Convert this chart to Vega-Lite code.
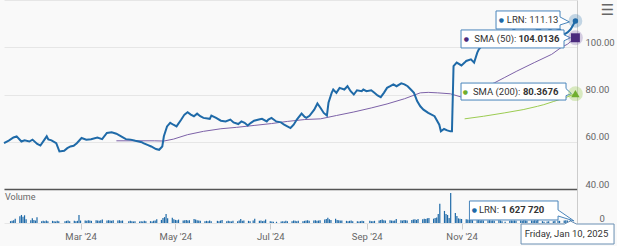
{
  "$schema": "https://vega.github.io/schema/vega-lite/v6.json",
  "background": "#f9f9f9",
  "padding": 0,
  "spacing": 0,
  "config": {"font": "Roboto", "view": {"stroke": null}, "axis": {"labelFont": "Roboto"}},
  "datasets": {
    "price": [
      {"d":"2024-01-15","p":59.4},{"d":"2024-01-18","p":60.5},{"d":"2024-01-21","p":61.8},{"d":"2024-01-23","p":62.3},
      {"d":"2024-01-26","p":60.1},{"d":"2024-01-28","p":60.6},{"d":"2024-01-31","p":60.1},{"d":"2024-02-02","p":60.9},
      {"d":"2024-02-05","p":59.1},{"d":"2024-02-07","p":58.4},{"d":"2024-02-11","p":62.3},{"d":"2024-02-12","p":61.0},
      {"d":"2024-02-14","p":60.6},{"d":"2024-02-17","p":59.4},{"d":"2024-02-19","p":55.9},{"d":"2024-02-22","p":56.2},
      {"d":"2024-02-24","p":57.3},{"d":"2024-02-26","p":58.0},{"d":"2024-02-28","p":58.3},{"d":"2024-03-01","p":59.4},
      {"d":"2024-03-04","p":61.6},{"d":"2024-03-07","p":60.9},{"d":"2024-03-10","p":61.1},{"d":"2024-03-14","p":61.8},
      {"d":"2024-03-17","p":61.1},{"d":"2024-03-20","p":63.7},{"d":"2024-03-23","p":64.0},{"d":"2024-03-26","p":63.4},
      {"d":"2024-03-29","p":62.3},{"d":"2024-04-01","p":61.1},{"d":"2024-04-04","p":60.9},{"d":"2024-04-07","p":60.4},
      {"d":"2024-04-11","p":59.8},{"d":"2024-04-12","p":59.4},{"d":"2024-04-15","p":58.6},{"d":"2024-04-17","p":58.0},
      {"d":"2024-04-20","p":56.9},{"d":"2024-04-22","p":56.6},{"d":"2024-04-24","p":58.0},{"d":"2024-04-25","p":62.3},
      {"d":"2024-04-27","p":66.5},{"d":"2024-04-29","p":68.0},{"d":"2024-05-01","p":67.2},{"d":"2024-05-03","p":66.5},
      {"d":"2024-05-06","p":69.4},{"d":"2024-05-08","p":71.5},{"d":"2024-05-10","p":72.5},{"d":"2024-05-12","p":71.5},
      {"d":"2024-05-14","p":70.8},{"d":"2024-05-16","p":71.9},{"d":"2024-05-18","p":70.8},{"d":"2024-05-20","p":70.1},
      {"d":"2024-05-24","p":69.7},{"d":"2024-05-25","p":71.1},{"d":"2024-05-28","p":70.1},{"d":"2024-05-31","p":68.9},
      {"d":"2024-06-03","p":68.6},{"d":"2024-06-06","p":69.4},{"d":"2024-06-08","p":68.2},{"d":"2024-06-11","p":67.5},
      {"d":"2024-06-13","p":68.6},{"d":"2024-06-15","p":68.0},{"d":"2024-06-17","p":66.9},{"d":"2024-06-19","p":68.0},
      {"d":"2024-06-21","p":68.9},{"d":"2024-06-24","p":69.4},{"d":"2024-06-26","p":69.7},{"d":"2024-06-29","p":68.6},
      {"d":"2024-06-30","p":69.4},{"d":"2024-07-02","p":70.1},{"d":"2024-07-05","p":68.6},{"d":"2024-07-08","p":68.2},
      {"d":"2024-07-10","p":67.2},{"d":"2024-07-12","p":66.5},{"d":"2024-07-14","p":65.8},{"d":"2024-07-16","p":67.2},
      {"d":"2024-07-18","p":69.4},{"d":"2024-07-21","p":71.9},{"d":"2024-07-23","p":70.5},{"d":"2024-07-24","p":70.1},
      {"d":"2024-07-26","p":71.0},{"d":"2024-07-29","p":73.6},{"d":"2024-07-31","p":76.2},{"d":"2024-08-02","p":74.3},
      {"d":"2024-08-04","p":72.2},{"d":"2024-08-06","p":71.1},{"d":"2024-08-07","p":76.5},{"d":"2024-08-09","p":80.7},
      {"d":"2024-08-10","p":82.1},{"d":"2024-08-12","p":80.7},{"d":"2024-08-14","p":82.8},{"d":"2024-08-17","p":82.1},
      {"d":"2024-08-19","p":83.5},{"d":"2024-08-21","p":81.4},{"d":"2024-08-23","p":80.0},{"d":"2024-08-25","p":81.8},
      {"d":"2024-08-28","p":81.4},{"d":"2024-08-29","p":82.1},{"d":"2024-08-31","p":81.4},{"d":"2024-09-03","p":81.8},
      {"d":"2024-09-05","p":80.7},{"d":"2024-09-07","p":79.6},{"d":"2024-09-09","p":78.9},{"d":"2024-09-11","p":80.7},
      {"d":"2024-09-13","p":82.8},{"d":"2024-09-15","p":83.5},{"d":"2024-09-17","p":84.3},{"d":"2024-09-19","p":83.5},
      {"d":"2024-09-22","p":84.7},{"d":"2024-09-24","p":84.3},{"d":"2024-09-26","p":83.5},{"d":"2024-09-28","p":82.1},
      {"d":"2024-09-30","p":80.7},{"d":"2024-10-02","p":77.2},{"d":"2024-10-04","p":75.0},{"d":"2024-10-06","p":73.6},
      {"d":"2024-10-09","p":72.2},{"d":"2024-10-13","p":70.8},{"d":"2024-10-16","p":67.2},{"d":"2024-10-17","p":64.4},
      {"d":"2024-10-19","p":65.4},{"d":"2024-10-21","p":64.8},{"d":"2024-10-23","p":64.4},{"d":"2024-10-24","p":64.4},
      {"d":"2024-10-25","p":92.0},{"d":"2024-10-27","p":93.5},{"d":"2024-10-30","p":92.3},{"d":"2024-11-01","p":93.5},
      {"d":"2024-11-02","p":94.2},{"d":"2024-11-05","p":94.9},{"d":"2024-11-07","p":93.5},{"d":"2024-11-09","p":97.7},
      {"d":"2024-11-10","p":99.1},{"d":"2024-11-13","p":101.5},{"d":"2024-11-16","p":103.0},{"d":"2024-11-20","p":102.0},
      {"d":"2024-11-23","p":104.5},{"d":"2024-11-26","p":106.0},{"d":"2024-11-29","p":105.0},{"d":"2024-12-02","p":107.5},
      {"d":"2024-12-05","p":109.0},{"d":"2024-12-08","p":108.0},{"d":"2024-12-12","p":110.0},{"d":"2024-12-15","p":108.5},
      {"d":"2024-12-18","p":107.0},{"d":"2024-12-21","p":109.5},{"d":"2024-12-24","p":108.0},{"d":"2024-12-27","p":106.5},
      {"d":"2024-12-31","p":107.5},{"d":"2025-01-03","p":105.5},{"d":"2025-01-05","p":106.3},{"d":"2025-01-07","p":107.6},
      {"d":"2025-01-10","p":111.13}
    ],
    "sma50": [
      {"d":"2024-03-26","p":60.4},{"d":"2024-04-06","p":60.4},{"d":"2024-04-19","p":60.4},{"d":"2024-04-25","p":60.3},
      {"d":"2024-05-01","p":61.1},{"d":"2024-05-10","p":63.0},{"d":"2024-05-20","p":64.4},{"d":"2024-05-31","p":65.5},
      {"d":"2024-06-10","p":66.1},{"d":"2024-06-21","p":66.9},{"d":"2024-07-02","p":67.7},{"d":"2024-07-12","p":68.6},
      {"d":"2024-07-23","p":69.4},{"d":"2024-08-02","p":69.7},{"d":"2024-08-12","p":71.1},{"d":"2024-08-23","p":72.6},
      {"d":"2024-09-03","p":74.3},{"d":"2024-09-13","p":76.0},{"d":"2024-09-24","p":78.2},{"d":"2024-10-04","p":80.7},
      {"d":"2024-10-09","p":80.9},{"d":"2024-10-15","p":80.7},{"d":"2024-10-23","p":80.3},{"d":"2024-10-30","p":78.9},
      {"d":"2024-11-07","p":80.5},{"d":"2024-11-13","p":83.0},{"d":"2024-11-20","p":85.0},{"d":"2024-11-26","p":87.1},
      {"d":"2024-12-04","p":89.9},{"d":"2024-12-15","p":93.5},{"d":"2024-12-26","p":97.0},{"d":"2025-01-01","p":99.9},
      {"d":"2025-01-05","p":101.3},{"d":"2025-01-10","p":104.0136}
    ],
    "sma200": [
      {"d":"2024-11-01","p":69.7},{"d":"2024-11-13","p":70.8},{"d":"2024-11-26","p":72.2},{"d":"2024-12-08","p":73.6},
      {"d":"2024-12-17","p":75.0},{"d":"2024-12-21","p":75.7},{"d":"2024-12-27","p":77.0},{"d":"2025-01-03","p":78.5},
      {"d":"2025-01-10","p":80.3676}
    ],
    "last": [
      {"d":"2025-01-10","p":111.13,"k":"LRN"},
      {"d":"2025-01-10","p":104.0136,"k":"S50"},
      {"d":"2025-01-10","p":80.3676,"k":"S200"}
    ],
    "lastv": [
      {"d":"2025-01-10","v":1.62772,"k":"VOL"},
      {"d":"2025-01-10","v":0,"k":"DATE"}
    ],
    "vol": [
      {"d":"2024-01-16","v":0.6},{"d":"2024-01-17","v":0.7},{"d":"2024-01-18","v":0.9},{"d":"2024-01-19","v":1.4},
      {"d":"2024-01-22","v":2.2},{"d":"2024-01-23","v":2.6},{"d":"2024-01-24","v":2.0},{"d":"2024-01-25","v":2.5},{"d":"2024-01-26","v":1.2},
      {"d":"2024-01-29","v":0.9},{"d":"2024-01-30","v":1.5},{"d":"2024-01-31","v":1.0},{"d":"2024-02-01","v":0.8},{"d":"2024-02-02","v":1.9},
      {"d":"2024-02-05","v":0.6},{"d":"2024-02-06","v":0.7},{"d":"2024-02-07","v":0.6},{"d":"2024-02-08","v":0.8},{"d":"2024-02-09","v":0.6},
      {"d":"2024-02-12","v":0.7},{"d":"2024-02-13","v":0.6},{"d":"2024-02-14","v":0.5},{"d":"2024-02-15","v":0.7},{"d":"2024-02-16","v":0.6},
      {"d":"2024-02-20","v":0.6},{"d":"2024-02-21","v":0.7},{"d":"2024-02-22","v":0.8},{"d":"2024-02-23","v":0.6},
      {"d":"2024-02-26","v":0.7},{"d":"2024-02-27","v":0.6},{"d":"2024-02-28","v":0.7},{"d":"2024-02-29","v":2.6},{"d":"2024-03-01","v":0.8},
      {"d":"2024-03-04","v":0.8},{"d":"2024-03-05","v":0.7},{"d":"2024-03-06","v":0.9},{"d":"2024-03-07","v":0.8},{"d":"2024-03-08","v":0.7},
      {"d":"2024-03-11","v":0.9},{"d":"2024-03-12","v":0.8},{"d":"2024-03-13","v":0.7},{"d":"2024-03-14","v":0.9},{"d":"2024-03-15","v":1.1},
      {"d":"2024-03-18","v":0.8},{"d":"2024-03-19","v":0.9},{"d":"2024-03-20","v":0.8},{"d":"2024-03-21","v":0.7},{"d":"2024-03-22","v":0.9},
      {"d":"2024-03-25","v":0.8},{"d":"2024-03-26","v":0.9},{"d":"2024-03-27","v":0.7},{"d":"2024-03-28","v":0.8},
      {"d":"2024-04-01","v":0.6},{"d":"2024-04-02","v":0.7},{"d":"2024-04-03","v":0.6},{"d":"2024-04-04","v":0.5},{"d":"2024-04-05","v":0.6},
      {"d":"2024-04-08","v":0.5},{"d":"2024-04-09","v":0.6},{"d":"2024-04-10","v":0.5},{"d":"2024-04-11","v":0.7},{"d":"2024-04-12","v":0.6},
      {"d":"2024-04-15","v":0.6},{"d":"2024-04-16","v":0.5},{"d":"2024-04-17","v":0.7},{"d":"2024-04-18","v":0.8},{"d":"2024-04-19","v":1.2},
      {"d":"2024-04-22","v":1.0},{"d":"2024-04-23","v":1.6},{"d":"2024-04-24","v":1.9},{"d":"2024-04-25","v":2.9},{"d":"2024-04-26","v":1.5},
      {"d":"2024-04-29","v":1.7},{"d":"2024-04-30","v":1.2},{"d":"2024-05-01","v":1.0},{"d":"2024-05-02","v":0.9},{"d":"2024-05-03","v":1.1},
      {"d":"2024-05-06","v":0.8},{"d":"2024-05-07","v":0.9},{"d":"2024-05-08","v":1.0},{"d":"2024-05-09","v":0.8},{"d":"2024-05-10","v":0.9},
      {"d":"2024-05-13","v":1.3},{"d":"2024-05-14","v":1.1},{"d":"2024-05-15","v":0.9},{"d":"2024-05-16","v":0.8},{"d":"2024-05-17","v":0.7},
      {"d":"2024-05-20","v":0.6},{"d":"2024-05-21","v":0.7},{"d":"2024-05-22","v":0.6},{"d":"2024-05-23","v":0.8},{"d":"2024-05-24","v":0.6},
      {"d":"2024-05-28","v":0.7},{"d":"2024-05-29","v":0.6},{"d":"2024-05-30","v":0.8},{"d":"2024-05-31","v":1.0},
      {"d":"2024-06-03","v":0.6},{"d":"2024-06-04","v":0.7},{"d":"2024-06-05","v":0.6},{"d":"2024-06-06","v":0.5},{"d":"2024-06-07","v":0.7},
      {"d":"2024-06-10","v":0.6},{"d":"2024-06-11","v":0.8},{"d":"2024-06-12","v":1.3},{"d":"2024-06-13","v":0.7},{"d":"2024-06-14","v":0.8},
      {"d":"2024-06-17","v":0.7},{"d":"2024-06-18","v":0.6},{"d":"2024-06-20","v":0.8},{"d":"2024-06-21","v":1.4},
      {"d":"2024-06-24","v":0.7},{"d":"2024-06-25","v":0.8},{"d":"2024-06-26","v":0.6},{"d":"2024-06-27","v":0.7},{"d":"2024-06-28","v":1.1},
      {"d":"2024-07-01","v":0.6},{"d":"2024-07-02","v":0.5},{"d":"2024-07-03","v":0.4},{"d":"2024-07-05","v":0.4},
      {"d":"2024-07-08","v":0.5},{"d":"2024-07-09","v":0.6},{"d":"2024-07-10","v":0.5},{"d":"2024-07-11","v":0.7},{"d":"2024-07-12","v":0.6},
      {"d":"2024-07-15","v":0.6},{"d":"2024-07-16","v":0.8},{"d":"2024-07-17","v":0.7},{"d":"2024-07-18","v":0.6},{"d":"2024-07-19","v":0.7},
      {"d":"2024-07-22","v":0.6},{"d":"2024-07-23","v":0.7},{"d":"2024-07-24","v":0.8},{"d":"2024-07-25","v":0.9},{"d":"2024-07-26","v":0.7},
      {"d":"2024-07-29","v":0.8},{"d":"2024-07-30","v":0.9},{"d":"2024-07-31","v":0.7},{"d":"2024-08-01","v":0.8},{"d":"2024-08-02","v":0.9},
      {"d":"2024-08-05","v":1.1},{"d":"2024-08-06","v":1.3},{"d":"2024-08-07","v":1.7},{"d":"2024-08-08","v":1.2},{"d":"2024-08-09","v":1.0},
      {"d":"2024-08-12","v":1.4},{"d":"2024-08-13","v":1.0},{"d":"2024-08-14","v":0.9},{"d":"2024-08-15","v":0.8},{"d":"2024-08-16","v":0.8},
      {"d":"2024-08-19","v":0.7},{"d":"2024-08-20","v":0.6},{"d":"2024-08-21","v":0.7},{"d":"2024-08-22","v":0.8},{"d":"2024-08-23","v":0.6},
      {"d":"2024-08-26","v":0.6},{"d":"2024-08-27","v":0.5},{"d":"2024-08-28","v":0.6},{"d":"2024-08-29","v":0.7},{"d":"2024-08-30","v":0.6},
      {"d":"2024-09-03","v":0.7},{"d":"2024-09-04","v":0.6},{"d":"2024-09-05","v":0.6},{"d":"2024-09-06","v":0.7},
      {"d":"2024-09-09","v":0.8},{"d":"2024-09-10","v":1.0},{"d":"2024-09-11","v":1.1},{"d":"2024-09-12","v":0.9},{"d":"2024-09-13","v":0.8},
      {"d":"2024-09-16","v":0.9},{"d":"2024-09-17","v":0.8},{"d":"2024-09-18","v":0.7},{"d":"2024-09-19","v":0.8},{"d":"2024-09-20","v":1.3},
      {"d":"2024-09-23","v":0.9},{"d":"2024-09-24","v":0.8},{"d":"2024-09-25","v":1.0},{"d":"2024-09-26","v":0.9},{"d":"2024-09-27","v":0.8},
      {"d":"2024-09-30","v":1.0},{"d":"2024-10-01","v":1.1},{"d":"2024-10-02","v":1.2},{"d":"2024-10-03","v":1.0},{"d":"2024-10-04","v":1.3},
      {"d":"2024-10-07","v":1.2},{"d":"2024-10-08","v":1.4},{"d":"2024-10-09","v":1.3},{"d":"2024-10-10","v":1.5},{"d":"2024-10-11","v":1.6},
      {"d":"2024-10-14","v":1.4},{"d":"2024-10-15","v":1.6},{"d":"2024-10-16","v":1.8},{"d":"2024-10-17","v":2.9},{"d":"2024-10-18","v":6.2},
      {"d":"2024-10-21","v":3.9},{"d":"2024-10-22","v":2.9},{"d":"2024-10-23","v":2.6},{"d":"2024-10-24","v":1.6},{"d":"2024-10-25","v":9.7},
      {"d":"2024-10-28","v":3.2},{"d":"2024-10-29","v":2.3},{"d":"2024-10-30","v":1.5},{"d":"2024-10-31","v":1.4},{"d":"2024-11-01","v":1.3},
      {"d":"2024-11-04","v":1.2},{"d":"2024-11-05","v":1.1},{"d":"2024-11-06","v":1.0},{"d":"2024-11-07","v":1.0},{"d":"2024-11-08","v":0.9},
      {"d":"2024-11-11","v":0.9},{"d":"2024-11-12","v":1.0},{"d":"2024-11-13","v":0.8},{"d":"2024-11-14","v":0.9},{"d":"2024-11-15","v":0.8},
      {"d":"2024-11-18","v":0.8},{"d":"2024-11-19","v":0.9},{"d":"2024-11-20","v":0.7},{"d":"2024-11-21","v":0.8},{"d":"2024-11-22","v":0.7},
      {"d":"2024-11-25","v":0.9},{"d":"2024-11-26","v":0.8},{"d":"2024-11-27","v":0.6},{"d":"2024-11-29","v":0.4},
      {"d":"2024-12-02","v":0.7},{"d":"2024-12-03","v":0.8},{"d":"2024-12-04","v":0.7},{"d":"2024-12-05","v":0.8},{"d":"2024-12-06","v":0.7},
      {"d":"2024-12-09","v":0.8},{"d":"2024-12-10","v":0.7},{"d":"2024-12-11","v":0.9},{"d":"2024-12-12","v":0.8},{"d":"2024-12-13","v":0.7},
      {"d":"2024-12-16","v":0.8},{"d":"2024-12-17","v":0.7},{"d":"2024-12-18","v":0.9},{"d":"2024-12-19","v":0.8},{"d":"2024-12-20","v":1.5},
      {"d":"2024-12-23","v":0.6},{"d":"2024-12-24","v":0.4},{"d":"2024-12-26","v":0.5},{"d":"2024-12-27","v":0.6},
      {"d":"2024-12-30","v":0.6},{"d":"2024-12-31","v":0.7},{"d":"2025-01-02","v":0.8},{"d":"2025-01-03","v":0.7},
      {"d":"2025-01-06","v":0.8},{"d":"2025-01-07","v":0.9},{"d":"2025-01-08","v":0.8},{"d":"2025-01-10","v":1.62772}
    ]
  },
  "resolve": {"scale": {"x": "independent"}},
  "vconcat": [
    {
      "width": 573,
      "height": 189,
      "title": {"text": "☰", "anchor": "end", "frame": "bounds", "orient": "top", "offset": -18, "fontSize": 15, "font": "DejaVu Sans", "color": "#666666", "fontWeight": "normal"},
      "encoding": {
        "x": {"field": "d", "type": "temporal",
              "scale": {"type": "utc", "domain": [{"year": 2024, "month": 1, "date": 15, "utc": true}, {"year": 2025, "month": 1, "date": 11, "utc": true}]},
              "axis": {"title": null, "labels": false, "ticks": false, "grid": false, "domainColor": "#555555", "domainWidth": 1.5}},
        "y": {"field": "p", "type": "quantitative",
              "scale": {"domain": [40, 120], "nice": false, "zero": false},
              "axis": {"orient": "right", "title": null, "values": [40, 60, 80, 100, 120], "labelExpr": "datum.value >= 120 ? '' : format(datum.value, '.2f')",
                       "ticks": false, "grid": true, "gridColor": "#e6e6e6", "domainColor": "#cccccc", "labelAlign": "left", "labelBaseline": "bottom",
                       "labelPadding": 8, "labelColor": "#666666", "labelFontSize": 9.5}}
      },
      "layer": [
        {"data": {"name": "sma200"}, "mark": {"type": "line", "color": "#9ccc52", "strokeWidth": 1}},
        {"data": {"name": "sma50"}, "mark": {"type": "line", "color": "#7d62a8", "strokeWidth": 1}},
        {"data": {"name": "price"}, "mark": {"type": "line", "color": "#1f6aa8", "strokeWidth": 2}},
        {"data": {"name": "last"}, "transform": [{"filter": "datum.k == 'LRN'"}],
         "mark": {"type": "point", "shape": "M-0.794,-0.10H-0.154V-0.04L-0.06,0.01L-0.154,0.04V0.08H-0.794Z", "size": 40000, "filled": true, "fill": "#ffffff", "stroke": "#4a85bb", "strokeWidth": 1, "opacity": 1}},
        {"data": {"name": "last"}, "transform": [{"filter": "datum.k == 'S50'"}],
         "mark": {"type": "point", "shape": "M-1.144,-0.078H-0.114V-0.03L-0.05,0L-0.114,0.03V0.102H-1.144Z", "size": 40000, "filled": true, "fill": "#ffffff", "stroke": "#4a85bb", "strokeWidth": 1, "opacity": 1}},
        {"data": {"name": "last"}, "transform": [{"filter": "datum.k == 'S200'"}],
         "mark": {"type": "point", "shape": "M-1.144,-0.106H-0.094V-0.05L-0.04,0L-0.094,0.02V0.064H-1.144Z", "size": 40000, "filled": true, "fill": "#ffffff", "stroke": "#4a85bb", "strokeWidth": 1, "opacity": 1}},
        {"data": {"name": "last"}, "transform": [{"filter": "datum.k == 'LRN'"}],
         "mark": {"type": "point", "shape": "circle", "size": 190, "filled": true, "color": "#1f6aa8", "opacity": 0.25}},
        {"data": {"name": "last"}, "transform": [{"filter": "datum.k == 'LRN'"}],
         "mark": {"type": "point", "shape": "circle", "size": 30, "filled": true, "color": "#1f6aa8", "opacity": 1}},
        {"data": {"name": "last"}, "transform": [{"filter": "datum.k == 'S50'"}],
         "mark": {"type": "point", "shape": "circle", "size": 220, "filled": true, "color": "#7d62a8", "opacity": 0.3}},
        {"data": {"name": "last"}, "transform": [{"filter": "datum.k == 'S50'"}],
         "mark": {"type": "point", "shape": "square", "size": 80, "filled": true, "color": "#4b2a7d", "opacity": 1}},
        {"data": {"name": "last"}, "transform": [{"filter": "datum.k == 'S200'"}],
         "mark": {"type": "point", "shape": "circle", "size": 220, "filled": true, "color": "#9ccc52", "opacity": 0.35}},
        {"data": {"name": "last"}, "transform": [{"filter": "datum.k == 'S200'"}],
         "mark": {"type": "point", "shape": "triangle-up", "size": 70, "filled": true, "color": "#6fae2e", "opacity": 1}},
        {"data": {"name": "last"}, "transform": [{"filter": "datum.k == 'LRN'"}],
         "mark": {"type": "text", "text": "●", "font": "DejaVu Sans", "fontSize": 6, "fill": "#1f6aa8", "dx": -74, "dy": -1}},
        {"data": {"name": "last"}, "transform": [{"filter": "datum.k == 'LRN'"}],
         "mark": {"type": "text", "text": "LRN: 111.13", "align": "right", "fontSize": 9.5, "fill": "#333333", "dx": -17, "dy": -1}},
        {"data": {"name": "last"}, "transform": [{"filter": "datum.k == 'S50'"}],
         "mark": {"type": "text", "text": "●", "font": "DejaVu Sans", "fontSize": 6, "fill": "#4b2a7d", "dx": -109, "dy": 1}},
        {"data": {"name": "last"}, "transform": [{"filter": "datum.k == 'S50'"}],
         "mark": {"type": "text", "text": "SMA (50):", "align": "right", "fontSize": 9.5, "fill": "#333333", "dx": -59, "dy": 1}},
        {"data": {"name": "last"}, "transform": [{"filter": "datum.k == 'S50'"}],
         "mark": {"type": "text", "text": "104.0136", "align": "left", "fontSize": 9.5, "fontWeight": "bold", "fill": "#333333", "dx": -57, "dy": 1}},
        {"data": {"name": "last"}, "transform": [{"filter": "datum.k == 'S200'"}],
         "mark": {"type": "text", "text": "●", "font": "DejaVu Sans", "fontSize": 6, "fill": "#6fae2e", "dx": -110, "dy": -2}},
        {"data": {"name": "last"}, "transform": [{"filter": "datum.k == 'S200'"}],
         "mark": {"type": "text", "text": "SMA (200):", "align": "right", "fontSize": 9.5, "fill": "#333333", "dx": -55, "dy": -2}},
        {"data": {"name": "last"}, "transform": [{"filter": "datum.k == 'S200'"}],
         "mark": {"type": "text", "text": "80.3676", "align": "left", "fontSize": 9.5, "fontWeight": "bold", "fill": "#333333", "dx": -52.5, "dy": -2}}
      ]
    },
    {
      "width": 573,
      "height": 34,
      "title": {"text": "Volume", "anchor": "start", "orient": "top", "offset": -13, "fontSize": 9, "color": "#666666", "fontWeight": "normal", "dx": 1},
      "encoding": {
        "x": {"field": "d", "type": "temporal",
              "scale": {"type": "utc", "domain": [{"year": 2024, "month": 1, "date": 15, "utc": true}, {"year": 2025, "month": 1, "date": 11, "utc": true}]},
              "axis": {"title": null, "grid": false, "format": "%b '%y",
                       "values": [{"year": 2024, "month": 3, "date": 1, "utc": true}, {"year": 2024, "month": 5, "date": 1, "utc": true}, {"year": 2024, "month": 7, "date": 1, "utc": true}, {"year": 2024, "month": 9, "date": 1, "utc": true}, {"year": 2024, "month": 11, "date": 1, "utc": true}],
                       "labelColor": "#666666", "labelFontSize": 9.5, "tickColor": "#cccccc", "tickSize": 6, "domainColor": "#e6e6e6", "labelPadding": 2}},
        "y": {"field": "v", "type": "quantitative",
              "scale": {"domain": [0, 11], "nice": false},
              "axis": {"orient": "right", "title": null, "values": [0], "ticks": false, "grid": false, "labelPadding": 22, "labelBaseline": "bottom",
                       "labelAlign": "left", "labelColor": "#666666", "labelFontSize": 9.5, "domainColor": "#cccccc"}}
      },
      "layer": [
        {"data": {"name": "vol"}, "mark": {"type": "bar", "size": 1.2, "color": "#1f6aa8"}},
        {"data": {"name": "lastv"}, "transform": [{"filter": "datum.k == 'VOL'"}],
         "mark": {"type": "point", "shape": "M-1.01,-0.17H-0.124V-0.08L0.036,0.03L-0.124,-0.02V0.02H-1.01Z", "size": 40000, "filled": true, "fill": "#ffffff", "stroke": "#4a85bb", "strokeWidth": 1, "opacity": 1}},
        {"data": {"name": "lastv"}, "transform": [{"filter": "datum.k == 'VOL'"}],
         "mark": {"type": "text", "text": "●", "font": "DejaVu Sans", "fontSize": 6, "fill": "#1f6aa8", "dx": -96, "dy": -7.5}},
        {"data": {"name": "lastv"}, "transform": [{"filter": "datum.k == 'VOL'"}],
         "mark": {"type": "text", "text": "LRN:", "align": "right", "fontSize": 9.5, "fill": "#333333", "dx": -71.5, "dy": -7.5}},
        {"data": {"name": "lastv"}, "transform": [{"filter": "datum.k == 'VOL'"}],
         "mark": {"type": "text", "text": "1 627 720", "align": "left", "fontSize": 9.5, "fontWeight": "bold", "fill": "#333333", "dx": -69, "dy": -7.5}},
        {"data": {"name": "lastv"}, "transform": [{"filter": "datum.k == 'DATE'"}],
         "mark": {"type": "point", "shape": "M-0.494,0.01H-0.06L0,-0.02L0.06,0.01H0.436V0.21H-0.494Z", "size": 40000, "filled": true, "fill": "#ffffff", "stroke": "#6a8fb3", "strokeWidth": 1, "opacity": 1}},
        {"data": {"name": "lastv"}, "transform": [{"filter": "datum.k == 'DATE'"}],
         "mark": {"type": "text", "text": "Friday, Jan 10, 2025", "align": "center", "fontSize": 9.5, "fill": "#333333", "dx": -4, "dy": 11}}
      ]
    }
  ]
}
